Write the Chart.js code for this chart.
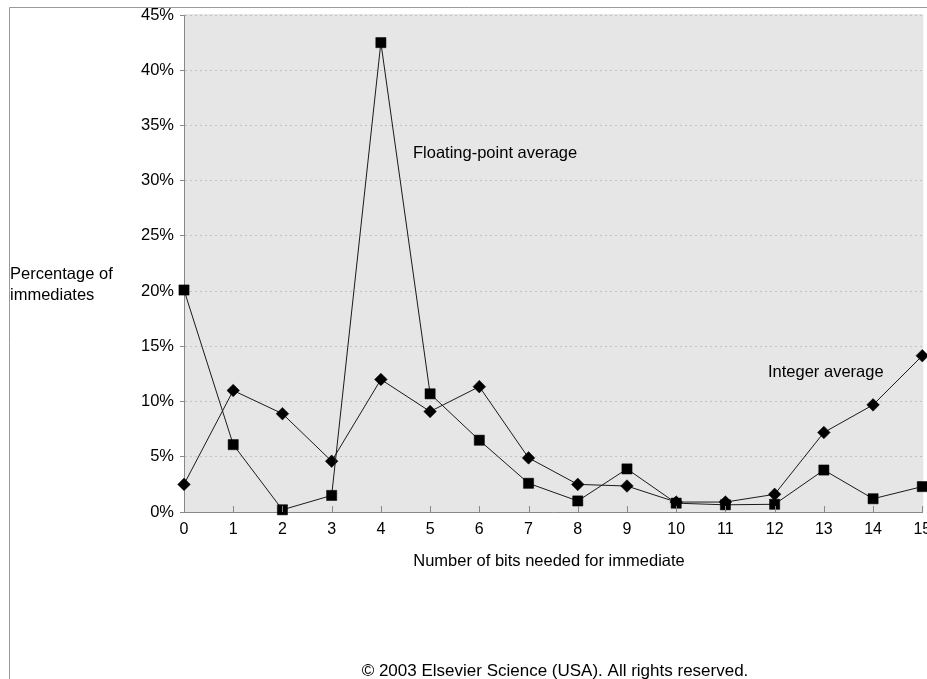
<!DOCTYPE html>
<html>
<head>
<meta charset="utf-8">
<script src="https://cdn.jsdelivr.net/npm/chart.js@4"></script>
<style>
html,body{margin:0;padding:0;background:#fff;overflow:hidden;}
#wrap{width:930px;height:679px;position:relative;}
canvas{display:block;}
</style>
</head>
<body>
<div id="wrap"><canvas id="c" width="930" height="679"></canvas></div>
<script>
// Data
const bits = [0,1,2,3,4,5,6,7,8,9,10,11,12,13,14,15];
const floatingPointAvg = [20.1, 6.1, 0.2, 1.5, 42.5, 10.7, 6.5, 2.6, 1.0, 3.9, 0.8, 0.65, 0.7, 3.8, 1.2, 2.3];
const integerAvg = [2.5, 11.0, 8.9, 4.6, 12.0, 9.1, 11.35, 4.9, 2.5, 2.35, 0.9, 0.9, 1.6, 7.2, 9.7, 14.15];
const yTicks = [0,5,10,15,20,25,30,35,40,45];
const xTitle = 'Number of bits needed for immediate';
const yTitle = ['Percentage of', 'immediates'];
const seriesLabels = ['Floating-point average', 'Integer average'];
const copyright = '\u00A9 2003 Elsevier Science (USA). All rights reserved.';

const FONT = "'Liberation Sans', Arial, Helvetica, sans-serif";

const toPoints = (vals) => bits.map((b, i) => ({x: b, y: vals[i]}));

const decor = {
  id: 'decor',
  beforeDraw(chart) {
    const {ctx, chartArea: a} = chart;
    ctx.save();
    ctx.fillStyle = '#e6e6e6';
    ctx.fillRect(a.left, a.top - 1, a.right - a.left + 1, a.bottom - a.top + 1);
    // frame
    ctx.strokeStyle = '#9a9a9a';
    ctx.lineWidth = 1;
    ctx.beginPath();
    ctx.moveTo(9.5, 679);
    ctx.lineTo(9.5, 7.5);
    ctx.lineTo(930, 7.5);
    ctx.stroke();
    ctx.restore();
  },
  afterDatasetsDraw(chart) {
    const {ctx, chartArea: a, scales: {x, y}} = chart;
    ctx.save();
    // inside tick marks on x axis
    ctx.strokeStyle = '#888';
    ctx.lineWidth = 1;
    ctx.beginPath();
    bits.forEach(b => {
      const px = Math.round(x.getPixelForValue(b)) + 0.5;
      ctx.moveTo(px, a.bottom);
      ctx.lineTo(px, a.bottom - 6);
    });
    ctx.stroke();
    ctx.fillStyle = '#000';
    ctx.textBaseline = 'alphabetic';
    ctx.font = '16.5px ' + FONT;
    ctx.textAlign = 'left';
    ctx.fillText(seriesLabels[0], 413, y.getPixelForValue(32.05));
    ctx.fillText(seriesLabels[1], 768, y.getPixelForValue(12.25));
    // y title
    ctx.fillText(yTitle[0], 10, 279);
    ctx.fillText(yTitle[1], 10, 300);
    // x title
    ctx.textAlign = 'center';
    ctx.fillText(xTitle, 549, 566);
    ctx.font = '17px ' + FONT;
    ctx.fillText(copyright, 555, 676);
    ctx.restore();
  }
};

new Chart(document.getElementById('c'), {
  type: 'line',
  data: {
    datasets: [
      {
        label: seriesLabels[0],
        data: toPoints(floatingPointAvg),
        borderColor: '#1a1a1a',
        borderWidth: 1,
        pointStyle: 'rect',
        pointRadius: 7.2,
        pointBackgroundColor: '#000',
        pointBorderColor: '#000',
        pointBorderWidth: 0.5,
        tension: 0,
        clip: false
      },
      {
        label: seriesLabels[1],
        data: toPoints(integerAvg),
        borderColor: '#1a1a1a',
        borderWidth: 1,
        pointStyle: 'rectRot',
        pointRadius: 6.3,
        pointBackgroundColor: '#000',
        pointBorderColor: '#000',
        pointBorderWidth: 0.5,
        tension: 0,
        clip: false
      }
    ]
  },
  options: {
    responsive: false,
    animation: false,
    devicePixelRatio: 1,
    layout: {padding: {left: 0, top: 15, right: 0, bottom: 127}},
    plugins: {legend: {display: false}, tooltip: {enabled: false}},
    scales: {
      x: {
        type: 'linear',
        min: 0, max: 15,
        afterFit(s) { s.height = 40; s.paddingLeft = 0; s.paddingRight = 0; },
        afterBuildTicks(s) { s.ticks = bits.map(v => ({value: v})); },
        ticks: {
          padding: 8,
          color: '#000',
          font: {family: FONT, size: 16},
          maxRotation: 0,
          autoSkip: false,
          callback: v => String(v)
        },
        grid: {display: false, drawTicks: false},
        border: {display: true, color: '#888', width: 1}
      },
      y: {
        min: 0, max: 45,
        afterFit(s) { s.width = 184; s.paddingTop = 0; s.paddingBottom = 0; },
        afterBuildTicks(s) { s.ticks = yTicks.map(v => ({value: v})); },
        ticks: {
          padding: 6,
          color: '#000',
          font: {family: FONT, size: 16.5},
          callback: v => v + '%'
        },
        grid: {
          color: ctx => (ctx.tick && ctx.tick.value === 0) ? 'rgba(0,0,0,0)' : '#c2c2c2',
          lineWidth: 1,
          tickLength: 4,
          tickColor: '#888',
          tickBorderDash: []
        },
        border: {display: true, color: '#888', width: 1, dash: [2, 3]}
      }
    }
  },
  plugins: [decor]
});
</script>
</body>
</html>
